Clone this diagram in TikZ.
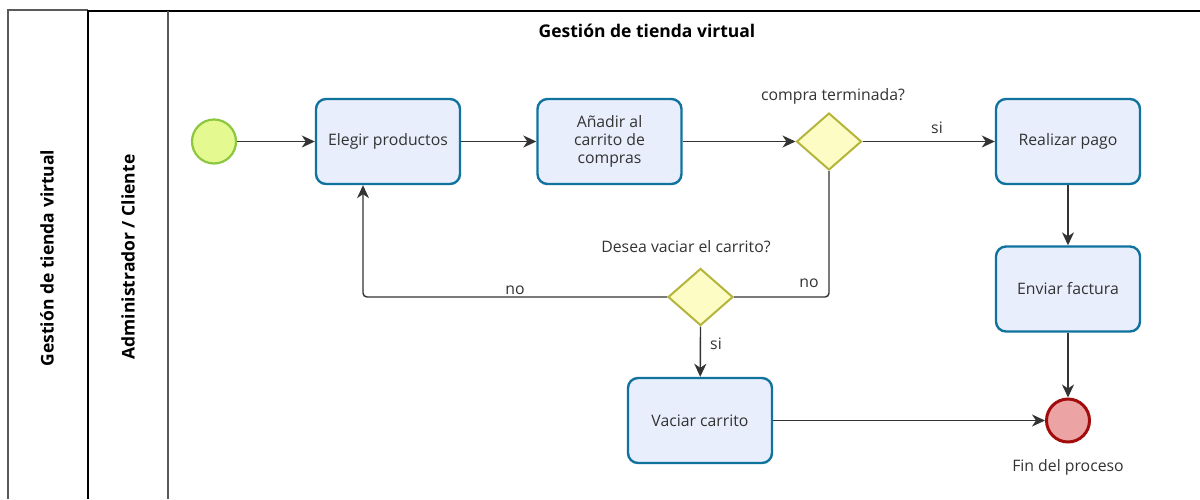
\documentclass[tikz,border=0pt]{standalone}
\usepackage{fontspec}
\setmainfont{Open Sans}
\usetikzlibrary{arrows.meta,shapes.geometric,positioning,calc}
\definecolor{taskfill}{HTML}{E9EEFC}
\definecolor{taskline}{HTML}{10739E}
\definecolor{gwfill}{HTML}{FCFCC4}
\definecolor{gwline}{HTML}{B5B53A}
\definecolor{stfill}{HTML}{E4FA90}
\definecolor{stline}{HTML}{8DC63F}
\definecolor{enfill}{HTML}{EBA3A3}
\definecolor{enline}{HTML}{A20C0C}
\definecolor{flow}{HTML}{333333}
\definecolor{txt}{HTML}{333333}
\tikzset{
  task/.style={draw=taskline, fill=taskfill, line width=2.4pt, rounded corners=10pt,
    minimum width=144pt, minimum height=85pt, align=center, text=txt,
    font=\fontsize{15.8}{18}\selectfont, inner sep=2pt},
  gw/.style={diamond, draw=gwline, fill=gwfill, line width=2pt, minimum width=65pt,
    minimum height=57pt, inner sep=0pt, aspect=1.14},
  startev/.style={circle, draw=stline, fill=stfill, line width=2.2pt, minimum size=44pt, inner sep=0pt},
  endev/.style={circle, draw=enline, fill=enfill, line width=3pt, minimum size=43pt, inner sep=0pt},
  flowline/.style={draw=flow, line width=1.4pt},
  arr/.style={flowline, -{Stealth[length=13pt,width=12pt,inset=4pt]}},
  lbl/.style={text=txt, font=\fontsize{15.8}{17}\selectfont, inner sep=0pt},
  lanetitle/.style={font=\bfseries\fontsize{17.5}{20}\selectfont, text=black, inner sep=0pt},
}
\begin{document}
\begin{tikzpicture}[x=1pt,y=-1pt]
\useasboundingbox (0,0) rectangle (1200,499);
\fill[white] (0,0) rectangle (1200,499);
% pool / lanes
\draw[line width=1.2pt, draw=black!65] (8,499) -- (8,10) -- (88,10);
\draw[line width=2.6pt, draw=black] (88,499) -- (88,11) -- (1200,11);
\draw[line width=1.2pt, draw=black!65] (168,11) -- (168,499);
\node[lanetitle, rotate=90] (pooltitle) at (47,258) {Gestión de tienda virtual};
\node[lanetitle, rotate=90] (lanetitle) at (128,257) {Administrador / Cliente};
\node[lanetitle] (title) at (647,31) {Gestión de tienda virtual};
% nodes
\node[startev] (start) at (214,141.5) {};
\node[task] (elegir) at (388,141.5) {Elegir productos};
\node[task] (anadir) at (609.5,141.5) {Añadir al\\carrito de\\compras};
\node[gw] (g1) at (829,141.5) {};
\node[task] (pago) at (1068,141.5) {Realizar pago};
\node[task] (factura) at (1068,289) {Enviar factura};
\node[gw] (g2) at (700.5,297) {};
\node[task] (vaciar) at (700,420.5) {Vaciar carrito};
\node[endev] (fin) at (1068,420.5) {};
% labels
\node[lbl] (l1) at (833,96) {compra terminada?};
\node[lbl] (l2) at (686,247) {Desea vaciar el carrito?};
\node[lbl] (l3) at (1068,467) {Fin del proceso};
\node[lbl] (si1) at (937,128) {si};
\node[lbl] (no1) at (515,290) {no};
\node[lbl] (no2) at (809,283) {no};
\node[lbl] (si2) at (716,344) {si};
% flows
\draw[arr] (start) -- (elegir);
\draw[arr] (elegir) -- (anadir);
\draw[arr] (anadir) -- (g1.west);
\draw[arr] (g1.east) -- (pago);
\draw[arr] (pago) -- (factura);
\draw[arr] (factura) -- (fin);
\draw[arr] (vaciar) -- (fin);
\draw[flowline, rounded corners=4pt] (g1.south) |- (g2.east);
\draw[arr, rounded corners=4pt] (g2.west) -| ($(elegir.south)+(-25,0)$);
\draw[arr] (g2.south) -- (vaciar);
\end{tikzpicture}
\end{document}
